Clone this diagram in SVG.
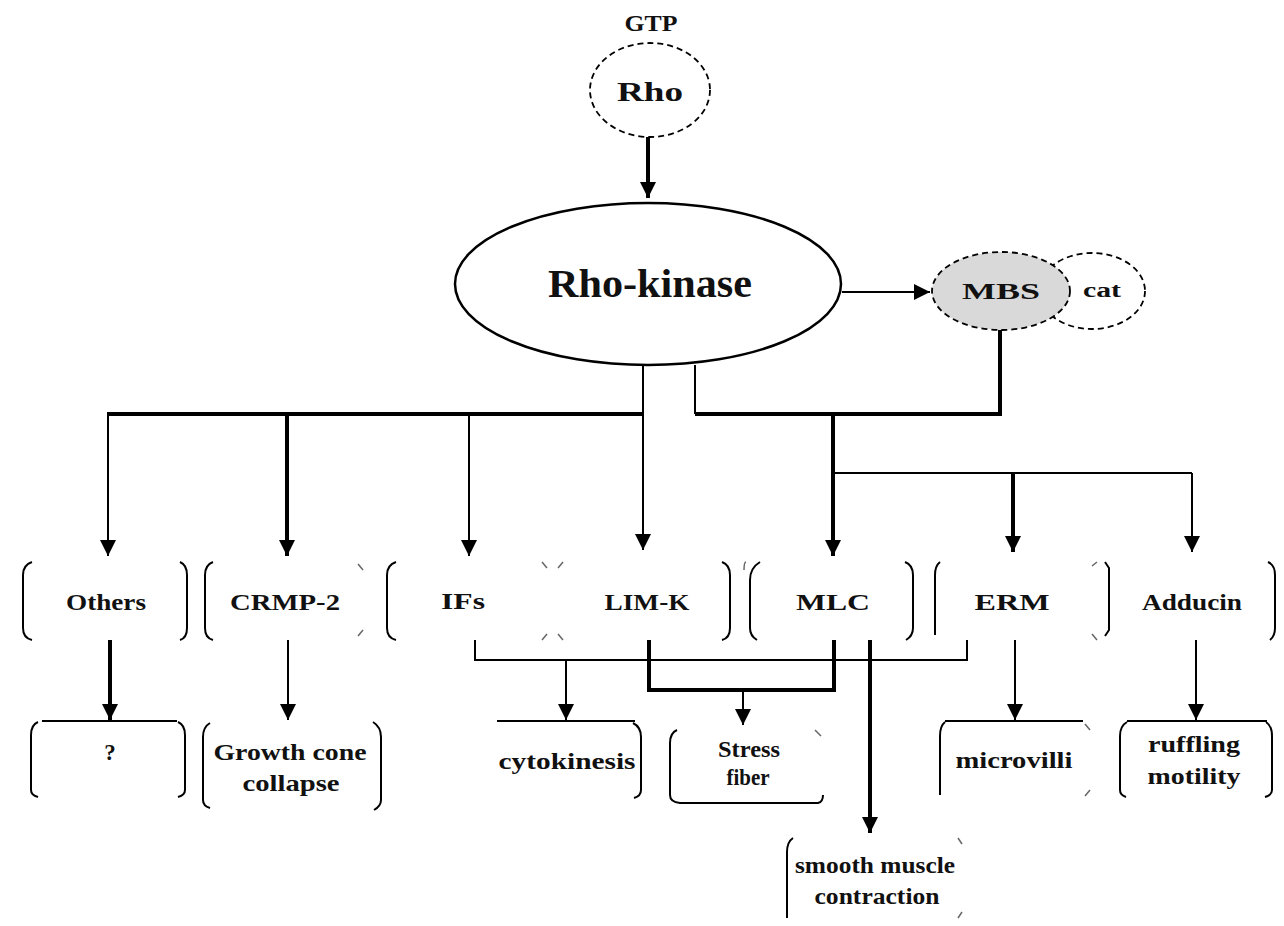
<svg xmlns="http://www.w3.org/2000/svg" width="1284" height="926" viewBox="0 0 1284 926">
<defs>
<marker id="ah" viewBox="0 0 10 10" refX="10" refY="5" markerWidth="16" markerHeight="16" markerUnits="userSpaceOnUse" orient="auto">
<path d="M0,0 L10,5 L0,10 z" fill="#000"/>
</marker>
</defs>
<style>
text{font-family:"Liberation Serif","Times New Roman",serif;font-weight:bold;fill:#111;text-anchor:middle}
.lbl{font-size:23px}
.thin{stroke:#000;stroke-width:2;fill:none}
.thick{stroke:#000;stroke-width:4;fill:none}
.br{stroke:#000;stroke-width:2;fill:none}
.tick{stroke:#666;stroke-width:1.5;fill:none}
.dash{stroke:#000;stroke-width:1.8;stroke-dasharray:6,4}
</style>
<rect width="1284" height="926" fill="#fff"/>

<g id="rho">
<text x="651" y="31" class="lbl" textLength="53" lengthAdjust="spacingAndGlyphs">GTP</text>
<ellipse cx="650" cy="90" rx="60" ry="47" fill="#fff" class="dash"/>
<text x="650" y="101" style="font-size:27px" textLength="66" lengthAdjust="spacingAndGlyphs">Rho</text>
</g>

<g id="rho-kinase">
<ellipse cx="648" cy="284" rx="193" ry="81" fill="#fff" stroke="#000" stroke-width="2.5"/>
<text x="650" y="297" style="font-size:40px" textLength="204" lengthAdjust="spacingAndGlyphs">Rho-kinase</text>
</g>

<g id="cat">
<ellipse cx="1092" cy="291" rx="53" ry="38" fill="#fff" class="dash"/>
<text x="1102" y="297" style="font-size:20px" textLength="38" lengthAdjust="spacingAndGlyphs">cat</text>
</g>
<g id="mbs">
<ellipse cx="1001" cy="291" rx="69" ry="39" fill="#d9d9d9" class="dash"/>
<text x="1001" y="299" class="lbl" textLength="78" lengthAdjust="spacingAndGlyphs">MBS</text>
</g>

<g id="connectors">
<line x1="648" y1="137" x2="648" y2="198" class="thick" marker-end="url(#ah)"/>
<line x1="842" y1="292" x2="930" y2="292" class="thin" marker-end="url(#ah)"/>
<line x1="643" y1="365" x2="643" y2="550" class="thin" marker-end="url(#ah)"/>
<line x1="108" y1="414" x2="643" y2="414" class="thick"/>
<line x1="108" y1="412" x2="108" y2="556" class="thin" marker-end="url(#ah)"/>
<line x1="287" y1="414" x2="287" y2="556" class="thick" marker-end="url(#ah)"/>
<line x1="469" y1="414" x2="469" y2="556" class="thin" marker-end="url(#ah)"/>
<line x1="695" y1="365" x2="695" y2="414" class="thin"/>
<polyline points="695,414 1000,414 1000,330" class="thick"/>
<line x1="833" y1="414" x2="833" y2="556" class="thick" marker-end="url(#ah)"/>
<polyline points="833,473 1192,473" class="thin"/>
<line x1="1013" y1="473" x2="1013" y2="552" class="thick" marker-end="url(#ah)"/>
<line x1="1192" y1="473" x2="1192" y2="552" class="thin" marker-end="url(#ah)"/>
<line x1="110" y1="640" x2="110" y2="720" class="thick" marker-end="url(#ah)"/>
<line x1="288" y1="640" x2="288" y2="720" class="thin" marker-end="url(#ah)"/>
<polyline points="475,640 475,660 967,660 967,640" class="thin"/>
<line x1="566" y1="660" x2="566" y2="720" class="thin" marker-end="url(#ah)"/>
<polyline points="649,640 649,690 834,690 834,640" class="thick"/>
<line x1="743" y1="690" x2="743" y2="725" class="thin" marker-end="url(#ah)"/>
<line x1="870" y1="640" x2="870" y2="833" class="thick" marker-end="url(#ah)"/>
<line x1="1015" y1="640" x2="1015" y2="720" class="thin" marker-end="url(#ah)"/>
<line x1="1196" y1="640" x2="1196" y2="720" class="thin" marker-end="url(#ah)"/>
</g>

<g id="others">
<path d="M32,562 Q23,565 23,575 L23,628 Q23,638 32,640" class="br"/>
<path d="M180,562 Q187,565 187,575 L187,628 Q187,638 180,640" class="br"/>
<text x="106" y="610" class="lbl" textLength="80" lengthAdjust="spacingAndGlyphs">Others</text>
</g>
<g id="crmp2">
<path d="M213,562 Q205,565 205,575 L205,628 Q205,638 213,640" class="br"/>
<path d="M358,564 L363,570 M358,636 L363,630" class="tick"/>
<text x="285" y="610" class="lbl" textLength="110" lengthAdjust="spacingAndGlyphs">CRMP-2</text>
</g>
<g id="ifs">
<path d="M396,562 Q387,565 387,575 L387,628 Q387,638 396,640" class="br"/>
<path d="M542,562 L547,568 M558,568 L563,562 M542,640 L547,634 M558,634 L563,640" class="tick"/>
<text x="463" y="609" class="lbl" textLength="44" lengthAdjust="spacingAndGlyphs">IFs</text>
</g>
<g id="limk">
<path d="M722,562 Q730,565 730,575 L730,628 Q730,638 722,640" class="br"/>
<text x="647" y="610" class="lbl" textLength="85" lengthAdjust="spacingAndGlyphs">LIM-K</text>
</g>
<g id="mlc">
<path d="M760,562 Q750,568 750,580 L750,628 Q750,636 757,640" class="br"/>
<path d="M746,562 Q744,562 744,570" class="tick"/>
<path d="M905,562 Q913,565 913,575 L913,628 Q913,636 906,640" class="br"/>
<text x="833" y="610" class="lbl" textLength="74" lengthAdjust="spacingAndGlyphs">MLC</text>
</g>
<g id="erm">
<path d="M940,562 Q935,566 935,575 L935,635" class="br"/>
<path d="M1092,566 L1097,562 M1092,634 L1097,640" class="tick"/>
<text x="1012" y="610" class="lbl" textLength="75" lengthAdjust="spacingAndGlyphs">ERM</text>
</g>
<g id="adducin">
<path d="M1105,562 L1109,568 L1109,630 L1105,636" class="br"/>
<path d="M1268,562 Q1275,565 1275,575 L1275,628 Q1275,636 1270,640" class="br"/>
<text x="1192" y="610" class="lbl" textLength="100" lengthAdjust="spacingAndGlyphs">Adducin</text>
</g>

<g id="unknown">
<path d="M42,721 L177,721" class="br"/>
<path d="M38,722 Q31,725 31,735 L31,790 Q31,795 38,797" class="br"/>
<path d="M178,722 Q185,725 185,735 L185,790 Q185,795 178,797" class="br"/>
<text x="110" y="760" class="lbl">?</text>
</g>
<g id="growth-cone">
<path d="M210,723 Q203,727 203,737 L203,800 Q203,806 210,808" class="br"/>
<path d="M373,722 Q381,727 381,737 L381,800 Q381,806 374,810" class="br"/>
<text x="290" y="760" class="lbl" textLength="153" lengthAdjust="spacingAndGlyphs">Growth cone</text>
<text x="291" y="791" class="lbl" textLength="97" lengthAdjust="spacingAndGlyphs">collapse</text>
</g>
<g id="cytokinesis">
<path d="M497,721 L635,721" class="br"/>
<path d="M633,723 Q641,727 641,737 L641,790 Q641,796 634,798" class="br"/>
<text x="567" y="769" class="lbl" textLength="137" lengthAdjust="spacingAndGlyphs">cytokinesis</text>
</g>
<g id="stress-fiber">
<path d="M677,730 Q670,733 670,743 L670,795 Q670,802 680,803 L818,803 Q823,802 823,795" class="br"/>
<path d="M815,730 L821,736" class="tick"/>
<text x="749" y="757" class="lbl" textLength="62" lengthAdjust="spacingAndGlyphs">Stress</text>
<text x="748" y="785" class="lbl" textLength="43" lengthAdjust="spacingAndGlyphs">fiber</text>
</g>
<g id="smooth-muscle">
<path d="M793,838 Q787,842 787,852 L787,918" class="br"/>
<path d="M958,838 L962,844 M958,918 L962,912" class="tick"/>
<text x="875" y="873" class="lbl" textLength="160" lengthAdjust="spacingAndGlyphs">smooth muscle</text>
<text x="877" y="904" class="lbl" textLength="125" lengthAdjust="spacingAndGlyphs">contraction</text>
</g>
<g id="microvilli">
<path d="M945,721 L1083,721" class="br"/>
<path d="M945,722 Q940,726 940,736 L940,795" class="br"/>
<path d="M1085,724 L1090,730 M1085,796 L1090,790" class="tick"/>
<text x="1014" y="768" class="lbl" textLength="117" lengthAdjust="spacingAndGlyphs">microvilli</text>
</g>
<g id="ruffling">
<path d="M1127,721 L1267,721" class="br"/>
<path d="M1127,722 Q1120,726 1120,736 L1120,790 Q1120,795 1126,797" class="br"/>
<path d="M1266,722 Q1272,726 1272,736 L1272,790 Q1272,795 1265,797" class="br"/>
<text x="1194" y="752" class="lbl" textLength="92" lengthAdjust="spacingAndGlyphs">ruffling</text>
<text x="1194" y="784" class="lbl" textLength="93" lengthAdjust="spacingAndGlyphs">motility</text>
</g>
</svg>
